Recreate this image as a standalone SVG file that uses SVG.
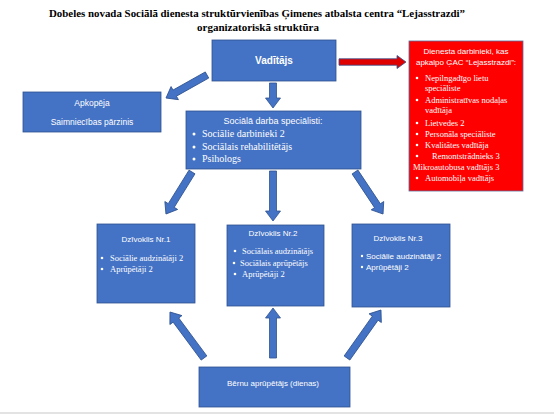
<svg xmlns="http://www.w3.org/2000/svg" width="554" height="414" viewBox="0 0 554 414">
<style>
.bg{fill:#ffffff}
.box{fill:#4472C4;stroke:#2F528F;stroke-width:0.8}
.red{fill:#FF0000;stroke:#5A6E9C;stroke-width:0.8}
.arr{fill:#4472C4;stroke:#2F528F;stroke-width:0.8}
.rarr{fill:#E00000;stroke:#2F528F;stroke-width:0.8}
.title{font-family:"Liberation Serif","Times New Roman",serif;font-weight:bold;font-size:11px;fill:#000;text-anchor:middle}
.hs{font-family:"Liberation Sans",Arial,sans-serif;font-size:8.5px;fill:#fff;text-anchor:middle}
.hb{font-family:"Liberation Sans",Arial,sans-serif;font-size:10px;font-weight:bold;fill:#fff;text-anchor:middle}
.sr{font-family:"Liberation Serif","Times New Roman",serif;font-size:8.5px;fill:#fff}
.sr10{font-family:"Liberation Serif","Times New Roman",serif;font-size:10px;fill:#fff}
.ss{font-family:"Liberation Sans",Arial,sans-serif;font-size:8px;fill:#fff}
.dot{fill:#fff}
</style>
<rect class="bg" x="0" y="0" width="554" height="414"/>
<line x1="0" y1="413" x2="554" y2="413" stroke="#c8c8c8" stroke-width="1.2"/>

<g id="title">
<text class="title" x="257" y="17" textLength="416" lengthAdjust="spacingAndGlyphs">Dobeles novada Sociālā dienesta struktūrvienības Ģimenes atbalsta centra “Lejasstrazdi”</text>
<text class="title" x="258" y="31">organizatoriskā struktūra</text>
</g>

<g id="connectors">
<polygon class="arr" transform="translate(207,75) rotate(150.7)" points="0,-3.5 37,-3.5 37,-7.5 47,0 37,7.5 37,3.5 0,3.5"/>
<polygon class="arr" transform="translate(273,83) rotate(90)" points="0,-3.5 15,-3.5 15,-7.5 25,0 15,7.5 15,3.5 0,3.5"/>
<polygon class="arr" transform="translate(192,172) rotate(121.8)" points="0,-3.5 39.4,-3.5 39.4,-7.5 49.4,0 39.4,7.5 39.4,3.5 0,3.5"/>
<polygon class="arr" transform="translate(273,171) rotate(90)" points="0,-3.5 40,-3.5 40,-7.5 50,0 40,7.5 40,3.5 0,3.5"/>
<polygon class="arr" transform="translate(355,172) rotate(56.3)" points="0,-3.5 40.5,-3.5 40.5,-7.5 50.5,0 40.5,7.5 40.5,3.5 0,3.5"/>
<polygon class="arr" transform="translate(204,358) rotate(-126.5)" points="0,-3.5 47.2,-3.5 47.2,-7.5 57.2,0 47.2,7.5 47.2,3.5 0,3.5"/>
<polygon class="arr" transform="translate(273,358) rotate(-90)" points="0,-3.5 40,-3.5 40,-7.5 50,0 40,7.5 40,3.5 0,3.5"/>
<polygon class="arr" transform="translate(347,358) rotate(-54.7)" points="0,-3.5 48.8,-3.5 48.8,-7.5 58.8,0 48.8,7.5 48.8,3.5 0,3.5"/>
<polygon class="rarr" transform="translate(339,62)" points="0,-3.2 58,-3.2 58,-6.5 67,0 58,6.5 58,3.2 0,3.2"/>
</g>

<g id="vaditajs">
<rect class="box" x="212" y="40" width="124" height="41"/>
<text class="hb" x="274" y="64">Vadītājs</text>
</g>

<g id="dienesta-darbinieki">
<rect class="red" x="409" y="41" width="114" height="150"/>
<text class="hs" x="466" y="54" style="font-size:8px">Dienesta darbinieki, kas</text>
<text class="hs" x="466" y="65" style="font-size:8px">apkalpo ĢAC “Lejasstrazdi”:</text>
<circle class="dot" cx="417" cy="78" r="1.3"/>
<text class="sr" x="425" y="81">Nepilngadīgo lietu</text>
<text class="sr" x="425" y="91">speciāliste</text>
<circle class="dot" cx="417" cy="100" r="1.3"/>
<text class="sr" x="425" y="103">Administratīvas nodaļas</text>
<text class="sr" x="425" y="113">vadītāja</text>
<circle class="dot" cx="417" cy="123" r="1.3"/>
<text class="sr" x="425" y="126">Lietvedes 2</text>
<circle class="dot" cx="417" cy="134" r="1.3"/>
<text class="sr" x="425" y="137">Personāla speciāliste</text>
<circle class="dot" cx="417" cy="145" r="1.3"/>
<text class="sr" x="425" y="148">Kvalitātes vadītāja</text>
<circle class="dot" cx="417" cy="156" r="1.3"/>
<text class="sr" x="432" y="159">Remontstrādnieks 3</text>
<text class="sr" x="413" y="170">Mikroautobusa vadītājs 3</text>
<circle class="dot" cx="417" cy="178" r="1.3"/>
<text class="sr" x="425" y="181">Automobiļa vadītājs</text>
</g>

<g id="apkopeja">
<rect class="box" x="23" y="92" width="138" height="40"/>
<text class="hs" x="92" y="106">Apkopēja</text>
<text class="hs" x="92" y="125">Saimniecības pārzinis</text>
</g>

<g id="socialie-specialisti">
<rect class="box" x="186" y="111" width="175" height="58"/>
<text class="hs" x="273" y="124" style="font-size:9px">Sociālā darba speciālisti:</text>
<circle class="dot" cx="194" cy="134" r="1.5"/>
<text class="sr10" x="202" y="137">Sociālie darbinieki 2</text>
<circle class="dot" cx="194" cy="147" r="1.5"/>
<text class="sr10" x="202" y="150">Sociālais rehabilitētājs</text>
<circle class="dot" cx="194" cy="159" r="1.5"/>
<text class="sr10" x="202" y="162">Psihologs</text>
</g>

<g id="dzivoklis-1">
<rect class="box" x="97" y="224" width="98" height="79"/>
<text class="hs" x="146" y="242" style="font-size:8px">Dzīvoklis Nr.1</text>
<circle class="dot" cx="102" cy="258" r="1.3"/>
<text class="sr" x="110" y="261">Sociālie audzinātāji 2</text>
<circle class="dot" cx="102" cy="269" r="1.3"/>
<text class="sr" x="110" y="272">Aprūpētāji 2</text>
</g>

<g id="dzivoklis-2">
<rect class="box" x="227" y="225" width="97" height="81"/>
<text class="hs" x="273" y="236" style="font-size:8px">Dzīvoklis Nr.2</text>
<circle class="dot" cx="235" cy="251" r="1.3"/>
<text class="sr" x="242" y="254">Sociālais audzinātājs</text>
<circle class="dot" cx="234" cy="263" r="1.3"/>
<text class="sr" x="240" y="266">Sociālais aprūpētājs</text>
<circle class="dot" cx="235" cy="274" r="1.3"/>
<text class="sr" x="242" y="277">Aprūpētāji 2</text>
</g>

<g id="dzivoklis-3">
<rect class="box" x="352" y="224" width="98" height="83"/>
<text class="hs" x="398" y="241" style="font-size:8px">Dzīvoklis Nr.3</text>
<circle class="dot" cx="362" cy="256" r="1.2"/>
<text class="ss" x="366" y="259">Sociālie audzinātāji 2</text>
<circle class="dot" cx="362" cy="267" r="1.2"/>
<text class="ss" x="366" y="270">Aprūpētāji 2</text>
</g>

<g id="bernu-aprupetajs">
<rect class="box" x="199" y="367" width="151" height="40"/>
<text class="hs" x="273" y="386" style="font-size:8px">Bērnu aprūpētājs (dienas)</text>
</g>
</svg>
